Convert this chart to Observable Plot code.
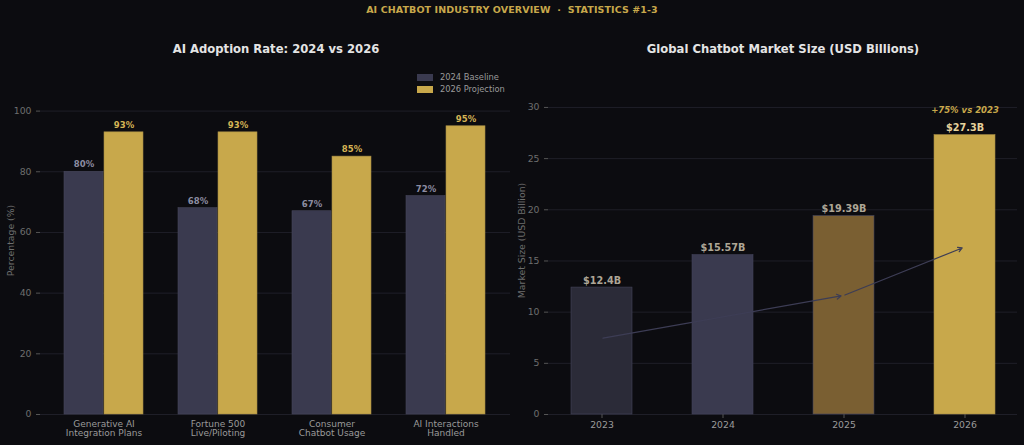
<!DOCTYPE html>
<html>
<head>
<meta charset="utf-8">
<script src="https://cdn.jsdelivr.net/npm/d3@7"></script>
<script src="https://cdn.jsdelivr.net/npm/@observablehq/plot@0.6"></script>
<style>
  html, body { margin: 0; padding: 0; background: #0c0c10; }
  body { width: 1024px; height: 445px; position: relative; overflow: hidden; font-family: "DejaVu Sans", sans-serif; }
  .header { position: absolute; top: 4px; left: 0; width: 1024px; text-align: center; color: #c8a84b; font-weight: bold; font-size: 9.5px; letter-spacing: 0.1px; }
  .title { position: absolute; top: 42px; width: 512px; text-align: center; color: #e4e4e4; font-weight: bold; font-size: 11.6px; }
  .legend { position: absolute; left: 417px; top: 71px; font-size: 8.3px; color: #9a9a9a; line-height: 12px; }
  .legend div { display: flex; align-items: center; }
  .legend span.sw { display: inline-block; width: 16px; height: 7px; margin-right: 7px; }
  .chart { position: absolute; top: 60px; }
</style>
</head>
<body>
<div class="header">AI CHATBOT INDUSTRY OVERVIEW&nbsp;&nbsp;·&nbsp;&nbsp;STATISTICS #1-3</div>
<div class="title" style="left:20px">AI Adoption Rate: 2024 vs 2026</div>
<div class="title" style="left:527px">Global Chatbot Market Size (USD Billions)</div>
<div class="legend" id="legend"></div>
<div class="chart" id="left" style="left:0"></div>
<div class="chart" id="right" style="left:512px"></div>
<script>
// Adoption rates by use case
const categories = ["Generative AI\nIntegration Plans", "Fortune 500\nLive/Piloting", "Consumer\nChatbot Usage", "AI Interactions\nHandled"];
const baseline2024 = [80, 68, 67, 72];
const projection2026 = [93, 93, 85, 95];
const seriesNames = ["2024 Baseline", "2026 Projection"];
const seriesColors = ["#3a3a4f", "#c8a84b"];

// Market size by year
const years = ["2023", "2024", "2025", "2026"];
const marketSize = [12.4, 15.57, 19.39, 27.3];
const marketLabels = ["$12.4B", "$15.57B", "$19.39B", "$27.3B"];
const marketColors = ["#2b2b38", "#3a3a4f", "#7a5f32", "#c8a84b"];
const growthNote = "+75% vs 2023";
// trend arrows run between these years at 60% of bar height
const trendFrom = ["2023", "2025"];
const trendTo = ["2025", "2026"];
const trendShare = 0.6;

const font = "DejaVu Sans, sans-serif";

// legend
document.getElementById("legend").innerHTML = seriesNames
  .map((n, i) => `<div><span class="sw" style="background:${seriesColors[i]}"></span>${n}</div>`)
  .join("");

// left: grouped bars
const adoption = categories.flatMap((c, i) => [
  {category: c, series: seriesNames[0], value: baseline2024[i]},
  {category: c, series: seriesNames[1], value: projection2026[i]}
]);
const base = adoption.filter(d => d.series === seriesNames[0]);
const proj = adoption.filter(d => d.series === seriesNames[1]);

const left = Plot.plot({
  width: 512, height: 385,
  marginLeft: 40, marginRight: 2, marginTop: 6, marginBottom: 31,
  style: {background: "transparent", fontFamily: font, fontSize: "9px", color: "#6e6e6e"},
  x: {domain: categories, paddingInner: 0.304, paddingOuter: 0.196, label: null},
  y: {domain: [0, 114.7], ticks: [0, 20, 40, 60, 80, 100], label: "Percentage (%)", labelAnchor: "center", labelArrow: "none", labelOffset: 33},
  marks: [
    Plot.gridY([0, 20, 40, 60, 80, 100], {stroke: "#1f1f28", strokeOpacity: 1}),
    Plot.axisY({ticks: [0, 20, 40, 60, 80, 100], tickSize: 4, stroke: "#555", fill: "#6e6e6e", label: "Percentage (%)", labelAnchor: "center", labelArrow: "none", labelOffset: 33, fontSize: 9.3}),
    Plot.axisX({tickSize: 0, fill: "#9a9a9a", fontSize: 9, tickPadding: 6, label: null}),
    Plot.barY(base, {x: "category", y: "value", fill: seriesColors[0], stroke: "#46465a", strokeWidth: 0.6, insetRight: 40}),
    Plot.barY(proj, {x: "category", y: "value", fill: seriesColors[1], stroke: "#a38a45", strokeWidth: 0.6, insetLeft: 40}),
    Plot.text(base, {x: "category", y: "value", text: d => d.value + "%", dx: -20, dy: -4.5, lineAnchor: "bottom", fill: "#8c8ca2", fontWeight: "bold", fontSize: 8.5}),
    Plot.text(proj, {x: "category", y: "value", text: d => d.value + "%", dx: 20, dy: -4.5, lineAnchor: "bottom", fill: "#d6b455", fontWeight: "bold", fontSize: 8.5})
  ]
});
document.getElementById("left").append(left);

// right: market size bars with trend arrows
const market = years.map((y, i) => ({year: y, value: marketSize[i], label: marketLabels[i], color: marketColors[i]}));
const byYear = new Map(market.map(d => [d.year, d]));
const trend = trendFrom.map((f, i) => ({
  from: f, to: trendTo[i],
  v1: byYear.get(f).value * trendShare,
  v2: byYear.get(trendTo[i]).value * trendShare
}));
const last = market.slice(-1);

const right = Plot.plot({
  width: 512, height: 385,
  marginLeft: 36, marginRight: 7, marginTop: 6, marginBottom: 31,
  style: {background: "transparent", fontFamily: font, fontSize: "9px", color: "#6e6e6e"},
  x: {domain: years, paddingInner: 0.497, paddingOuter: 0.18, label: null},
  y: {domain: [0, 34], label: "Market Size (USD Billion)"},
  marks: [
    Plot.gridY([0, 5, 10, 15, 20, 25, 30], {stroke: "#1f1f28", strokeOpacity: 1}),
    Plot.axisY({ticks: [0, 5, 10, 15, 20, 25, 30], tickSize: 4, stroke: "#555", fill: "#6e6e6e", label: "Market Size (USD Billion)", labelAnchor: "center", labelArrow: "none", labelOffset: 30, fontSize: 9.3}),
    Plot.axisX({tickSize: 4, stroke: "#555", fill: "#9a9a9a", fontSize: 9.3, tickPadding: 3, label: null}),
    Plot.barY(market, {x: "year", y: "value", fill: "color", stroke: d => d.year === "2026" ? "#a38a45" : "#44445a", strokeWidth: 0.6}),
    Plot.arrow(trend, {x1: "from", y1: "v1", x2: "to", y2: "v2", stroke: "#3d3d55", strokeWidth: 1.2, headLength: 6, insetEnd: 3, insetStart: 1}),
    Plot.text(market, {x: "year", y: "value", text: "label", dy: -4, lineAnchor: "bottom", fill: d => d.year === "2026" ? "#e6d29c" : "#aea696", fontWeight: "bold", fontSize: 9.7}),
    Plot.text(last, {x: "year", y: "value", text: () => growthNote, dy: -22, lineAnchor: "bottom", fill: "#c8a84b", fontWeight: "bold", fontStyle: "italic", fontSize: 8.5})
  ]
});
document.getElementById("right").append(right);
</script>
</body>
</html>
